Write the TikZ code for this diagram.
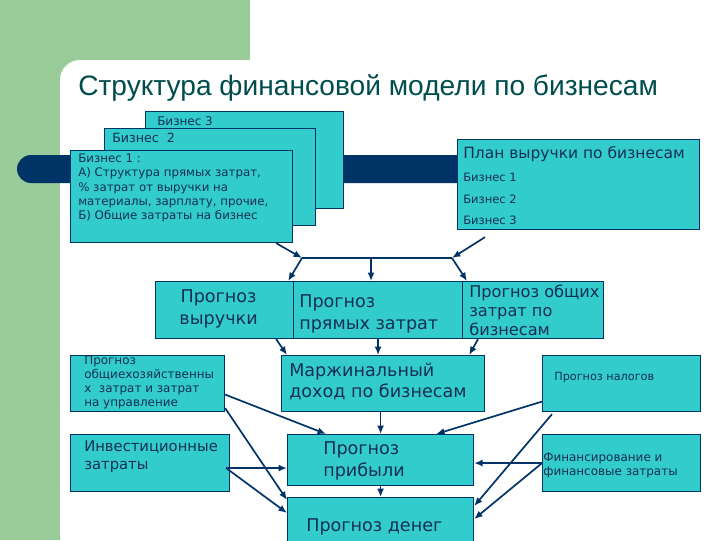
\documentclass[tikz,border=0pt]{standalone}
\usepackage{fontspec}
\setmainfont{DejaVu Sans}
\newfontfamily\titlefont{Liberation Sans}
\usetikzlibrary{arrows.meta,calc}
\definecolor{slgreen}{RGB}{153,204,153}
\definecolor{slnavy}{RGB}{0,51,102}
\definecolor{slcyan}{RGB}{51,204,204}
\definecolor{sltitle}{RGB}{0,77,77}
\definecolor{sltext}{RGB}{20,48,80}

\begin{document}
\begin{tikzpicture}[x=0.025cm,y=-0.025cm,
  >={Latex[length=6pt,width=5pt]},
  link/.style={->,draw=slnavy,line width=1.2pt},
  blk/.style={draw=slnavy,fill=slcyan,line width=0.8pt,anchor=north west,inner sep=0pt},
  lbl/.style={inner sep=0pt,text=sltext,align=left},
  bigtxt/.style={font=\fontsize{12.5}{15.5}\selectfont},
  smalltxt/.style={font=\fontsize{8}{11}\selectfont}
]
\clip (0,0) rectangle (720,540);
% slide background
\fill[slgreen] (0,0) rectangle (250,540);
\fill[white,rounded corners=0.5cm] (60,60) rectangle (800,600);
\fill[slnavy,rounded corners=0.35cm] (17,155) rectangle (480,183);

\node[anchor=west,inner sep=0pt,text=sltitle,font=\titlefont\fontsize{20}{24}\selectfont] (title) at (78,88)
  {Структура финансовой модели по бизнесам};

% business sheets
\node[blk,minimum width=4.95cm,minimum height=2.425cm] (biz3) at (145,111) {};
\node[lbl,anchor=north west,font=\fontsize{8.5}{11}\selectfont] (biz3t) at ($(biz3.north west)+(12,5)$) {Бизнес 3};
\node[blk,minimum width=5.275cm,minimum height=2.425cm] (biz2) at (104,128) {};
\node[lbl,anchor=north west,font=\fontsize{9}{11}\selectfont] (biz2t) at ($(biz2.north west)+(8,5)$) {Бизнес~~2};
\node[blk,minimum width=5.55cm,minimum height=2.3cm] (biz1) at (70,150) {};
\node[lbl,anchor=north west,font=\fontsize{8.4}{10}\selectfont] (biz1t) at ($(biz1.north west)+(8,4)$)
  {Бизнес 1 :\\ А) Структура прямых затрат,\\ \% затрат от выручки на\\ материалы, зарплату, прочие,\\ Б) Общие затраты на бизнес};

\node[blk,minimum width=6.05cm,minimum height=2.25cm] (plan) at (457,139) {};
\node[lbl,anchor=north west,font=\fontsize{11}{13}\selectfont] (plant) at ($(plan.north west)+(6,7)$) {План выручки по бизнесам};
\node[lbl,anchor=north west,font=\fontsize{8.2}{15.3}\selectfont] (planl) at ($(plan.north west)+(6,34)$) {Бизнес 1\\ Бизнес 2\\ Бизнес 3};

% forecasts
\node[blk,minimum width=3.45cm,minimum height=1.425cm] (rev) at (155,281) {};
\node[lbl,align=center,bigtxt] (revt) at ($(rev.center)+(-6,-1)$) {Прогноз\\ выручки};
\node[blk,minimum width=4.225cm,minimum height=1.425cm] (direct) at (293,281) {};
\node[lbl,anchor=west,bigtxt] (directt) at ($(direct.west)+(6,4)$) {Прогноз\\ прямых затрат};
\node[blk,minimum width=3.525cm,minimum height=1.425cm] (gen) at (462,281) {};
\node[lbl,anchor=west,font=\fontsize{11.5}{13.5}\selectfont] (gent) at ($(gen.west)+(7,0)$) {Прогноз общих\\ затрат по\\ бизнесам};

\node[blk,minimum width=5.075cm,minimum height=1.4cm] (margin) at (281,355) {};
\node[lbl,anchor=west,bigtxt] (margint) at ($(margin.west)+(8,-2)$) {Маржинальный\\ доход по бизнесам};
\node[blk,minimum width=3.95cm,minimum height=1.4cm] (taxes) at (542,355) {};
\node[lbl,anchor=west,smalltxt] (taxest) at ($(taxes.west)+(12,-6)$) {Прогноз налогов};
\node[blk,minimum width=3.85cm,minimum height=1.4cm] (admin) at (70,355) {};
\node[lbl,anchor=west,font=\fontsize{8.5}{10}\selectfont] (admint) at ($(admin.west)+(14,-1)$)
  {Прогноз\\ общиехозяйственны\\ х~~затрат и затрат\\ на управление};

\node[blk,minimum width=3.975cm,minimum height=1.425cm] (invest) at (70,434) {};
\node[lbl,anchor=north west,font=\fontsize{10.5}{13}\selectfont] (investt) at ($(invest.north west)+(14,6)$) {Инвестиционные\\ затраты};
\node[blk,minimum width=4.65cm,minimum height=1.275cm] (profit) at (287,434) {};
\node[lbl,anchor=west,bigtxt] (profitt) at ($(profit.west)+(36,1)$) {Прогноз\\ прибыли};
\node[blk,minimum width=3.95cm,minimum height=1.425cm] (finance) at (542,434) {};
\node[lbl,anchor=west,font=\fontsize{8.5}{10}\selectfont] (financet) at ($(finance.west)+(1,2)$) {Финансирование и\\ финансовые затраты};
\node[blk,minimum width=4.65cm,minimum height=1.75cm] (cash) at (287,497) {};
\node[lbl,anchor=west,bigtxt] (casht) at ($(cash.north west)+(19,30)$) {Прогноз денег};

% junction under the sheets
\coordinate (jl) at (302,258);
\coordinate (jm) at (371,258);
\coordinate (jr) at (452,258);
\draw[link] ($(biz1.south east)+(-17,0)$) -- (jl);
\draw[link] ($(plan.south west)+(28,7)$) -- (jr);
\draw[draw=slnavy,line width=1.2pt] (jl) -- (jr);
\draw[link] (jl) -- ($(rev.north east)+(-6,0)$);
\draw[link] (jm) -- (jm |- direct.north);
\draw[link] (jr) -- ($(gen.north west)+(5,0)$);

\draw[link] ($(rev.south east)+(-18,0)$) -- ($(margin.north west)+(6,0)$);
\draw[link] (direct.south) -- (direct.south |- margin.north);
\draw[link] ($(gen.south west)+(16,0)$) -- ($(margin.north east)+(-16,0)$);

\draw[link] (margin.south -| profit.north) -- (profit.north);
\draw[link] (profit.south) -- (cash.north);

\draw[link] ($(admin.east)+(0,11)$) -- ($(profit.north west)+(39,0)$);
\draw[link] ($(admin.south east)+(0,-4)$) -- ($(cash.north west)+(0,3)$);
\coordinate (iv) at ($(invest.east)+(-4,5)$);
\draw[link] (iv) -- (iv -| profit.west);
\draw[link] (iv) -- ($(cash.north west)+(0,16)$);

\draw[link] ($(taxes.west)+(0,18)$) -- ($(profit.north east)+(-38,0)$);
\draw[link] ($(taxes.south west)+(10,2)$) -- ($(cash.north east)+(0,9)$);
\draw[link] (finance.west) -- (finance.west -| profit.east);
\draw[link] (finance.west) -- ($(cash.north east)+(0,22)$);
\end{tikzpicture}
\end{document}
